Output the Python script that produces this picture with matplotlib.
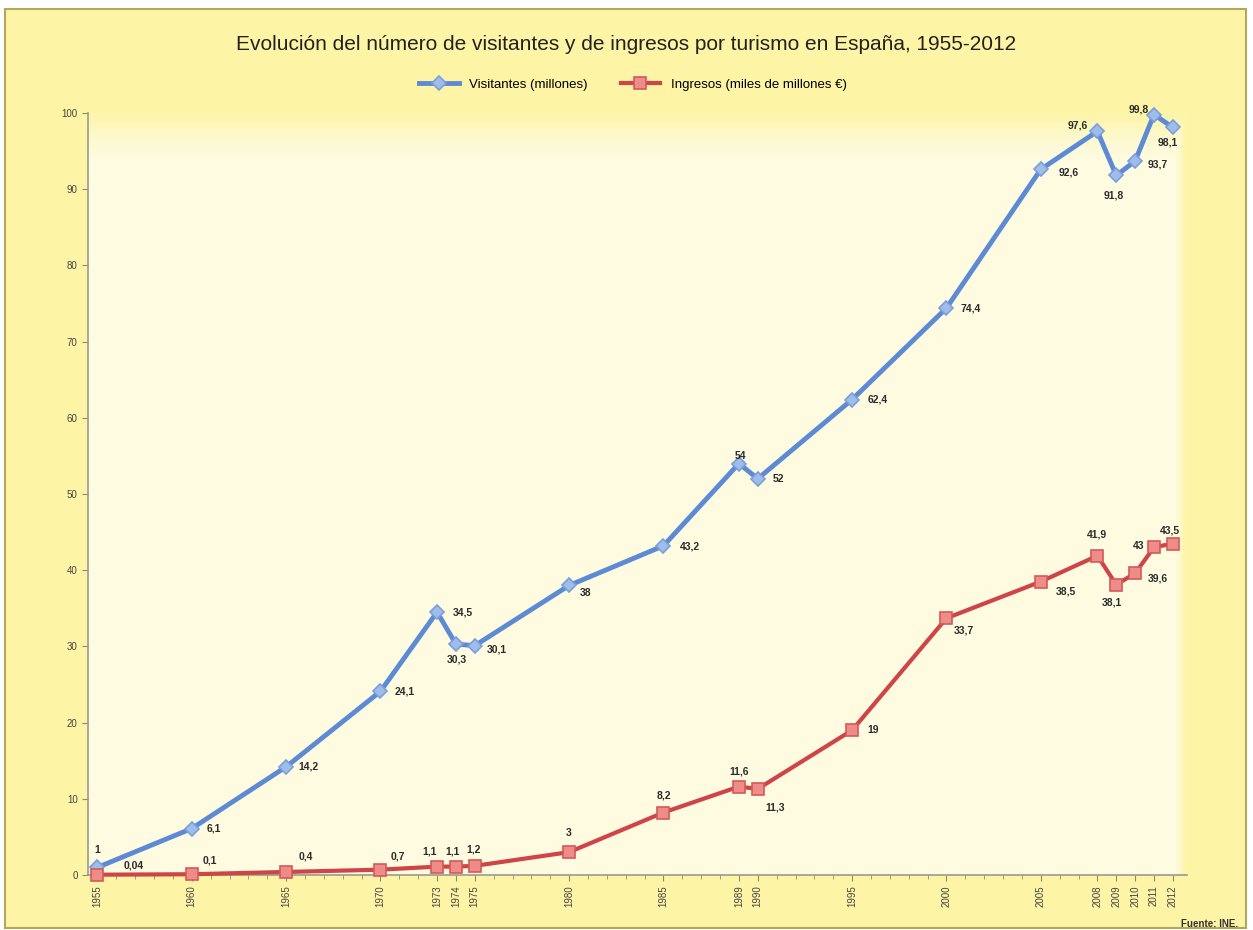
import numpy as np
import matplotlib
matplotlib.use("Agg")
import matplotlib.pyplot as plt
from matplotlib.patches import Rectangle
from matplotlib.colors import to_rgb

plt.rcParams['font.family'] = ['Liberation Sans Narrow', 'Liberation Sans', 'DejaVu Sans']

# datos (INE)
years = [1955, 1960, 1965, 1970, 1973, 1974, 1975, 1980, 1985, 1989, 1990,
         1995, 2000, 2005, 2008, 2009, 2010, 2011, 2012]
visitantes = [1, 6.1, 14.2, 24.1, 34.5, 30.3, 30.1, 38, 43.2, 54, 52,
              62.4, 74.4, 92.6, 97.6, 91.8, 93.7, 99.8, 98.1]
ingresos = [0.04, 0.1, 0.4, 0.7, 1.1, 1.1, 1.2, 3, 8.2, 11.6, 11.3,
            19, 33.7, 38.5, 41.9, 38.1, 39.6, 43, 43.5]
year_labels = [str(y) for y in years]

# desplazamiento de las etiquetas (pixeles)
off_vis = [(0, 17), (22, 0), (22, 0), (24, 0), (26, 0), (1, -15), (22, -4), (16, -8),
           (26, -1), (2, 8), (21, 0), (26, 0), (24, 0), (28, -3), (-20, 6),
           (-2, -20), (23, -3), (-15, 5), (-5, -15)]
off_ing = [(36, 9), (18, 14), (20, 15), (17, 13), (-7, 15), (-3, 15), (-1, 16), (0, 19),
           (0, 17), (0, 15), (17, -19), (21, 0), (17, -12), (25, -10), (0, 21),
           (-4, -18), (23, -5), (-15, 1), (-3, 13)]


def fmt(v):
    s = ('%g' % v).replace('.', ',')
    return s


fig = plt.figure(figsize=(12.53, 9.30), dpi=100)
fig.patch.set_facecolor('white')

# marco amarillo
fig.patches.append(Rectangle((5 / 1253, 2 / 930), 1241 / 1253, 919 / 930,
                             transform=fig.transFigure, facecolor='#fdf4a6',
                             edgecolor='#b2a75e', linewidth=1.5, zorder=-5))

ax = fig.add_axes([88 / 1253, 1 - 875 / 930, 1099 / 1253, 762 / 930])
ax.set_zorder(1)
ax.set_xlim(1954.5, 2012.75)
ax.set_ylim(0, 100)

# fondo degradado del area de trazado
h, w = 200, 300
yy = np.linspace(0, 1, h)[:, None]
xx = np.linspace(0, 1, w)[None, :]
t = np.clip(np.maximum((yy - 0.94) / 0.06, (xx - 0.99) / 0.01), 0, 1) ** 1.5
c0 = np.array(to_rgb('#fefbe0'))
c1 = np.array(to_rgb('#fdf5a9'))
img = c0 * (1 - t[..., None]) + c1 * t[..., None]
ax.imshow(img, extent=[1954.5, 2012.75, 0, 100], origin='lower', aspect='auto', zorder=0)

ax.plot(years, visitantes, color='#5d8ad4', lw=3.5, marker='D', ms=7,
        mfc='#9ebdea', mec='#7a9fdc', mew=1.2, label='Visitantes (millones)',
        zorder=3, clip_on=False)
ax.plot(years, ingresos, color='#cf4446', lw=3.0, marker='s', ms=9,
        mfc='#ee8c8a', mec='#d45a5a', mew=1.2, label='Ingresos (miles de millones €)',
        zorder=3, clip_on=False)

for x, v, (dx, dy) in zip(years, visitantes, off_vis):
    ax.annotate(fmt(v), (x, v), xytext=(dx * 0.72, dy * 0.72), textcoords='offset points',
                ha='center', va='center', fontsize=7.5, fontweight='bold', color='#2b2b2b', zorder=4)
for x, v, (dx, dy) in zip(years, ingresos, off_ing):
    ax.annotate(fmt(v), (x, v), xytext=(dx * 0.72, dy * 0.72), textcoords='offset points',
                ha='center', va='center', fontsize=7.5, fontweight='bold', color='#2b2b2b', zorder=4)

ax.set_yticks(np.arange(0, 101, 10))
ax.tick_params(axis='y', labelsize=7, colors='#8a8a7a', labelcolor='#444444', length=4)
ax.set_xticks(years)
ax.set_xticklabels(year_labels, rotation=90, fontsize=7, color='#444444')
ax.set_xticks(np.arange(1955, 2013), minor=True)
ax.tick_params(axis='x', which='both', colors='#8a8a7a', labelcolor='#444444', length=4)
ax.tick_params(axis='x', which='minor', length=3)

for s in ['top', 'right']:
    ax.spines[s].set_visible(False)
for s in ['left', 'bottom']:
    ax.spines[s].set_color('#9a9a90')
    ax.spines[s].set_linewidth(1.2)

fig.text(0.5, 1 - 45 / 930, 'Evolución del número de visitantes y de ingresos por turismo en España, 1955-2012',
         ha='center', va='center', fontsize=15, color='#222222')
fig.legend(loc='center', bbox_to_anchor=(0.505, 1 - 85 / 930), ncol=2, frameon=False,
           fontsize=9.5, handlelength=3, columnspacing=2.5)
fig.text(1238 / 1253, 1 - 924 / 930, 'Fuente: INE.', ha='right', va='center', fontsize=7,
         fontweight='bold', color='#333333')

fig.savefig('out.png', dpi=100, facecolor=fig.get_facecolor())
